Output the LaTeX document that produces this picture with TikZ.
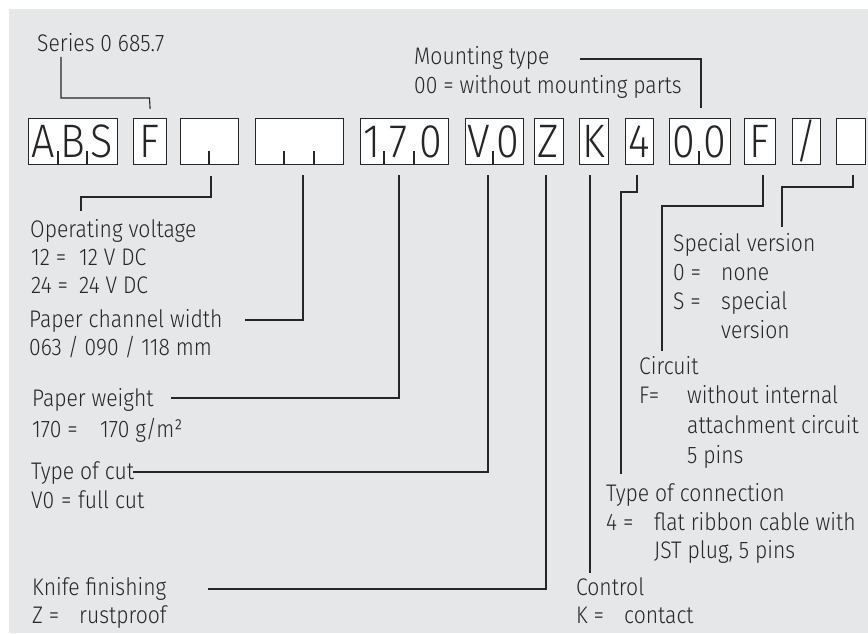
\documentclass[tikz,border=0pt]{standalone}
\usepackage{fontspec}
\IfFontExistsTF{Fira Sans Book}
  {\setmainfont{Fira Sans Book}[FakeStretch=0.87]}
  {\IfFontExistsTF{Fira Sans Light}
    {\setmainfont{Fira Sans Light}[FakeStretch=0.88]}
    {\setmainfont{Fira Sans}[FakeStretch=0.86]}}
\IfFontExistsTF{Fira Sans Light}
  {\newfontfamily\boxfont{Fira Sans Light}[FakeStretch=0.88]}
  {\newfontfamily\boxfont{Fira Sans}[FakeStretch=0.86]}
\usetikzlibrary{calc}
\definecolor{bg}{RGB}{230,231,232}
\definecolor{ln}{RGB}{38,38,38}
\begin{document}
\begin{tikzpicture}[x=1pt,y=-1pt,
  txt/.style={anchor=base west,inner sep=0pt,font=\fontsize{24}{28}\selectfont,text=ln},
  cell/.style={draw=ln,line width=1.2pt,fill=white,anchor=north west,minimum height=46pt,inner sep=0pt},
  ch/.style={font=\boxfont\fontsize{47}{50}\selectfont,anchor=base,inner sep=0pt,text=ln},
  con/.style={draw=ln,line width=1.1pt},
  tk/.style={draw=ln,line width=1.1pt}]
% background
\useasboundingbox (0,0) rectangle (868,634);
\fill[white] (0,0) rectangle (868,634);
\fill[bg] (9,9) rectangle (868,633);

% boxes
\node[cell,minimum width=89pt] (abs) at (28,118) {};
\node[cell,minimum width=33pt] (fa) at (133,118) {};
\node[cell,minimum width=58pt] (volt) at (180,118) {};
\node[cell,minimum width=88pt] (chan) at (255,118) {};
\node[cell,minimum width=88pt] (wt) at (360,118) {};
\node[cell,minimum width=58pt] (cut) at (465,118) {};
\node[cell,minimum width=29pt] (zb) at (534,118) {};
\node[cell,minimum width=29pt] (kb) at (579,118) {};
\node[cell,minimum width=28pt] (fourb) at (625,118) {};
\node[cell,minimum width=61pt] (mnt) at (669,118) {};
\node[cell,minimum width=31pt] (fb) at (744,118) {};
\node[cell,minimum width=28pt] (sl) at (792,118) {};
\node[cell,minimum width=29pt] (sp) at (836,118) {};

% ticks
\foreach \x in {58,87,209,284,314,384,414,493,699}
  \draw[tk] (\x,164) -- (\x,151);

% box letters
\node[ch] at (43,157) {A};
\node[ch] at (72.5,157) {B};
\node[ch] at (102,157) {S};
\node[ch] at (149.5,157) {F};
\node[ch] at (372,157) {1};
\node[ch] at (399,157) {7};
\node[ch] at (431,157) {0};
\node[ch] at (479,157) {V};
\node[ch] at (508,157) {0};
\node[ch] at (548.5,157) {Z};
\node[ch] at (593.5,157) {K};
\node[ch] at (639,157) {4};
\node[ch] at (684,157) {0};
\node[ch] at (714.5,157) {0};
\node[ch] at (759.5,157) {F};
\node[ch] at (806,157) {/};

% labels
\node[txt] (series) at (37,52) {Series 0 685.7};
\node[txt] (mtype) at (414,65) {Mounting type};
\node[txt] (mval) at (414,93) {00 = without mounting parts};

\node[txt] (ovolt) at (30,237) {Operating voltage};
\node[txt] (ov1a) at (31,265) {12 =};
\node[txt] (ov1b) at (79,265) {12 V DC};
\node[txt] (ov2a) at (31,293) {24 =};
\node[txt] (ov2b) at (79,293) {24 V DC};
\node[txt] (pchan) at (29,327) {Paper channel width};
\node[txt] (pchv) at (29,355) {063 / 090 / 118 mm};
\node[txt] (pwt) at (32,406) {Paper weight};
\node[txt] (pwa) at (32,437) {170 =};
\node[txt] (pwb) at (100,437) {170 g/m²};
\node[txt] (tcut) at (31,479) {Type of cut};
\node[txt] (tca) at (31,508) {V0};
\node[txt] (tcb) at (61,508) {=};
\node[txt] (tcc) at (78,508) {full cut};
\node[txt] (knife) at (32,595) {Knife finishing};
\node[txt] (kna) at (32,623) {Z =};
\node[txt] (knb) at (79,623) {rustproof};

\node[txt] (ctrl) at (576,595) {Control};
\node[txt] (cta) at (576,623) {K =};
\node[txt] (ctb) at (624,623) {contact};
\node[txt] (tconn) at (606,501) {Type of connection};
\node[txt] (tcoa) at (606,530) {4 =};
\node[txt] (tcob) at (654,530) {flat ribbon cable with};
\node[txt] (tcoc) at (654,558) {JST plug, 5 pins};
\node[txt] (circ) at (639,374) {Circuit};
\node[txt] (cia) at (639,403) {F=};
\node[txt] (cib) at (687,403) {without internal};
\node[txt] (cic) at (687,433) {attachment circuit};
\node[txt] (cid) at (687,463) {5 pins};
\node[txt] (spv) at (673,251) {Special version};
\node[txt] (spa) at (673,280) {0 =};
\node[txt] (spb) at (721,280) {none};
\node[txt] (spc) at (673,309) {S =};
\node[txt] (spd) at (721,309) {special};
\node[txt] (spe) at (721,338) {version};

% connectors
\draw[con] (61,57) |- (149.5,98) -- ([yshift=9pt]fa.north);
\draw[con] (580,59) -| (701,108);
\draw[con] (211,176) |- (81,197) -- (81,211);
\draw[con] (303,175) |- (245,320);
\draw[con] (399,175) |- (171,398);
\draw[con] (488,175) |- (133,472);
\draw[con] (546,175) |- (208,589);
\draw[con] (590,175) -- (590,573);
\draw[con] (637,175) |- (621,192) -- (621,474);
\draw[con] (763,175) |- (662,206) -- (662,351);
\draw[con] (853,175) |- (782,187) -- (782,227);
\end{tikzpicture}
\end{document}
